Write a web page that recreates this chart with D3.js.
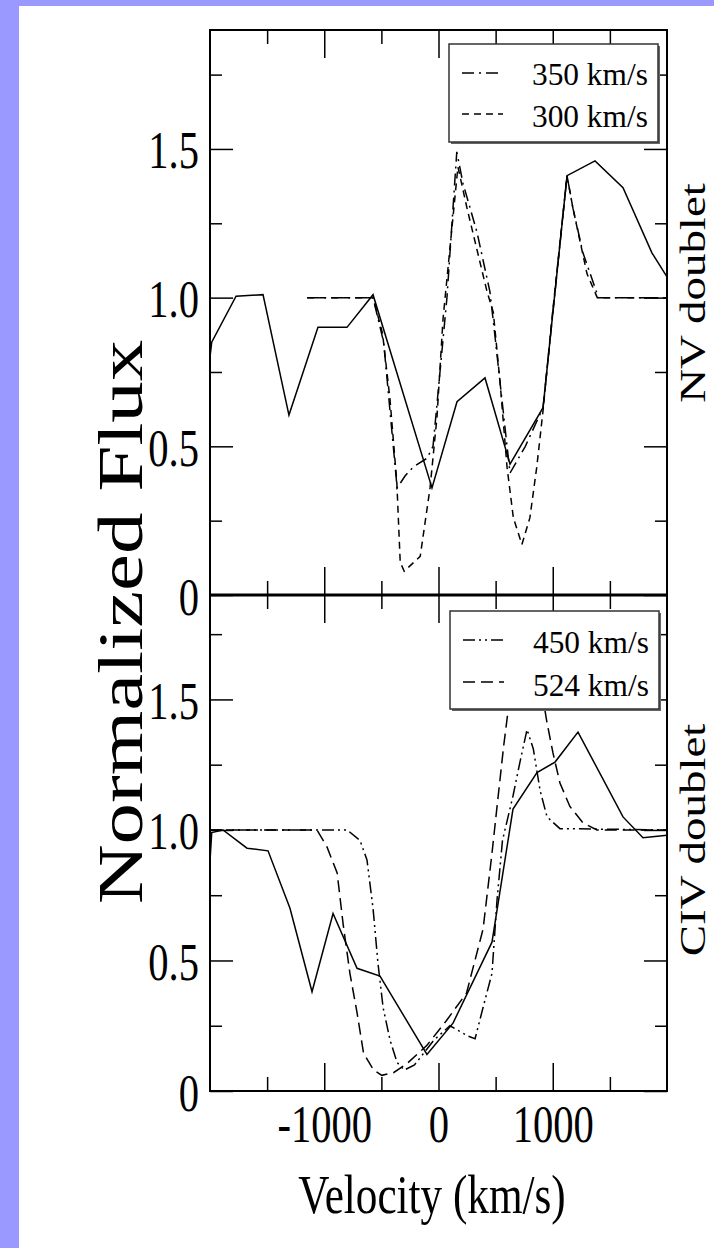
<!DOCTYPE html>
<html>
<head>
<meta charset="utf-8">
<script src="https://cdn.jsdelivr.net/npm/d3@7"></script>
<style>
  body { margin: 0; background: #fff; }
  svg { display: block; }
  text { font-family: "Liberation Serif", "Times New Roman", serif; fill: #000; }
</style>
</head>
<body>
<svg id="chart" width="714" height="1248"></svg>
<script>
// NV doublet (top panel)
const nvObsVel = [-2000, -1985, -1772, -1536, -1309, -1055, -801, -573, -57, 162, 407, 626, 915, 1125, 1370, 1615, 1869, 2000];
const nvObsFlux = [0.80, 0.85, 1.005, 1.01, 0.605, 0.90, 0.90, 1.01, 0.36, 0.65, 0.73, 0.44, 0.63, 1.41, 1.46, 1.37, 1.15, 1.07];
const nv350Vel = [-1150, -573, -480, -362, -293, -223, -100, -48, 74, 160, 214, 337, 450, 480, 626, 760, 915, 1125, 1177, 1265, 1400, 2000];
const nv350Flux = [1.0, 1.0, 0.85, 0.36, 0.40, 0.43, 0.46, 0.50, 1.0, 1.49, 1.385, 1.22, 1.02, 0.92, 0.41, 0.50, 0.63, 1.41, 1.30, 1.15, 1.0, 1.0];
const nv300Vel = [-1150, -573, -490, -425, -365, -335, -300, -160, -74, -13, 40, 170, 250, 425, 480, 540, 600, 655, 730, 800, 860, 915, 993, 1125, 1177, 1300, 1390, 2000];
const nv300Flux = [1.0, 1.0, 0.88, 0.66, 0.38, 0.11, 0.08, 0.13, 0.36, 0.60, 0.93, 1.44, 1.30, 1.02, 0.95, 0.71, 0.43, 0.26, 0.17, 0.26, 0.43, 0.62, 0.93, 1.41, 1.30, 1.08, 1.0, 1.0];

// CIV doublet (bottom panel)
const civObsVel = [-2000, -1985, -1886, -1676, -1492, -1300, -1107, -923, -713, -512, -101, 127, 468, 652, 862, 1020, 1221, 1615, 1790, 2000];
const civObsFlux = [0.88, 0.99, 1.0, 0.93, 0.92, 0.70, 0.38, 0.68, 0.47, 0.44, 0.14, 0.26, 0.57, 1.08, 1.22, 1.26, 1.375, 1.05, 0.97, 0.98];
const civ450Vel = [-2000, -800, -687, -626, -573, -530, -485, -424, -363, -300, -210, -40, 100, 260, 320, 390, 468, 512, 560, 652, 713, 775, 830, 890, 950, 1063, 2000];
const civ450Flux = [1.0, 1.0, 0.96, 0.885, 0.70, 0.49, 0.32, 0.195, 0.11, 0.08, 0.10, 0.195, 0.25, 0.21, 0.20, 0.32, 0.45, 0.73, 0.96, 1.13, 1.26, 1.385, 1.31, 1.15, 1.05, 1.005, 1.0];
const civ524Vel = [-2000, -1063, -976, -887, -835, -775, -713, -656, -568, -496, -394, -276, -101, 70, 245, 390, 468, 510, 570, 610, 700, 780, 870, 950, 1002, 1063, 1150, 1265, 1387, 2000];
const civ524Flux = [1.0, 1.0, 0.935, 0.835, 0.64, 0.45, 0.30, 0.145, 0.08, 0.06, 0.07, 0.105, 0.175, 0.27, 0.375, 0.62, 0.91, 1.08, 1.32, 1.46, 1.68, 1.76, 1.62, 1.41, 1.295, 1.18, 1.09, 1.027, 1.0, 1.0];

const xMajor = [-1000, 0, 1000];
const xMinor = [-1500, -500, 500, 1500];
const yMajor = [0, 0.5, 1.0, 1.5];
const yMinor = [0.25, 0.75, 1.25, 1.75];

const zip = (vs, fs) => vs.map((v, i) => [v, fs[i]]);

const svg = d3.select("#chart");

// lavender page border
svg.append("rect").attr("x", 0).attr("y", 0).attr("width", 19).attr("height", 1248).attr("fill", "#9999ff");
svg.append("rect").attr("x", 0).attr("y", 0).attr("width", 714).attr("height", 6).attr("fill", "#9999ff");

const x = d3.scaleLinear().domain([-2000, 2000]).range([210, 667]);

const dashDot = "12,5,2,5";
const panels = [
  {
    label: "NV doublet", labelY: 293,
    y: d3.scaleLinear().domain([0, 1.9]).range([595, 30]),
    series: [
      { data: zip(nvObsVel, nvObsFlux), dash: null },
      { data: zip(nv350Vel, nv350Flux), dash: dashDot },
      { data: zip(nv300Vel, nv300Flux), dash: "7,5" }
    ],
    legend: { x: 449, y: 44, items: [["350 km/s", dashDot, 29, 41], ["300 km/s", "7,5", 70, 83]] }
  },
  {
    label: "CIV doublet", labelY: 840,
    y: d3.scaleLinear().domain([0, 1.9]).range([1091, 595]),
    series: [
      { data: zip(civObsVel, civObsFlux), dash: null },
      { data: zip(civ450Vel, civ450Flux), dash: "12,4,2,4,2,4" },
      { data: zip(civ524Vel, civ524Flux), dash: "12,6" }
    ],
    legend: { x: 450, y: 611, items: [["450 km/s", "12,4,2,4,2,4", 29, 42], ["524 km/s", "12,6", 71, 85]] }
  }
];

function addText(parent, str, tx, ty, size, sx, anchor, rot) {
  return parent.append("text")
    .attr("transform", `translate(${tx},${ty}) scale(${sx},1)` + (rot ? ` rotate(${rot})` : ""))
    .attr("text-anchor", anchor)
    .attr("font-size", size)
    .text(str);
}

const fmt = (d) => (d === 0 ? "0" : d3.format(".1f")(d));

function styleAxis(g) {
  g.select(".domain").remove();
  g.selectAll(".tick line").attr("stroke", "#000").attr("stroke-width", 1.5);
}

panels.forEach((p, pi) => {
  const y = p.y;
  const [yBottom, yTop] = y.range();
  const g = svg.append("g");

  // data lines
  const line = d3.line().x((d) => x(d[0])).y((d) => y(d[1]));
  p.series.forEach((s) => {
    g.append("path")
      .datum(s.data)
      .attr("d", line)
      .attr("fill", "none")
      .attr("stroke", "#000")
      .attr("stroke-width", 1.5)
      .attr("stroke-dasharray", s.dash);
  });

  // inside ticks on all four sides
  g.append("g").attr("transform", "translate(210,0)")
    .call(d3.axisLeft(y).tickValues(yMajor).tickSizeInner(-23).tickSizeOuter(0).tickFormat(fmt))
    .call(styleAxis)
    .call((a) => a.selectAll("text")
      .attr("x", null).attr("dy", null)
      .attr("transform", "translate(-11,19) scale(0.78,1)")
      .attr("text-anchor", "end")
      .attr("font-size", 52)
      .attr("fill", "#000"));
  g.append("g").attr("transform", "translate(210,0)")
    .call(d3.axisLeft(y).tickValues(yMinor).tickSizeInner(-12).tickSizeOuter(0).tickFormat(""))
    .call(styleAxis);
  g.append("g").attr("transform", "translate(667,0)")
    .call(d3.axisRight(y).tickValues(yMajor).tickSizeInner(-23).tickSizeOuter(0).tickFormat(""))
    .call(styleAxis);
  g.append("g").attr("transform", "translate(667,0)")
    .call(d3.axisRight(y).tickValues(yMinor).tickSizeInner(-12).tickSizeOuter(0).tickFormat(""))
    .call(styleAxis);
  g.append("g").attr("transform", `translate(0,${yTop})`)
    .call(d3.axisTop(x).tickValues(xMajor).tickSizeInner(-28).tickSizeOuter(0).tickFormat(""))
    .call(styleAxis);
  g.append("g").attr("transform", `translate(0,${yTop})`)
    .call(d3.axisTop(x).tickValues(xMinor).tickSizeInner(-14).tickSizeOuter(0).tickFormat(""))
    .call(styleAxis);
  const isLast = pi === panels.length - 1;
  g.append("g").attr("transform", `translate(0,${yBottom})`)
    .call(d3.axisBottom(x).tickValues(xMajor).tickSizeInner(-28).tickSizeOuter(0).tickFormat(isLast ? (d) => String(d) : ""))
    .call(styleAxis)
    .call((a) => a.selectAll("text")
      .attr("y", null).attr("dy", null)
      .attr("transform", "translate(0,51) scale(0.78,1)")
      .attr("text-anchor", "middle")
      .attr("font-size", 52)
      .attr("fill", "#000"));
  g.append("g").attr("transform", `translate(0,${yBottom})`)
    .call(d3.axisBottom(x).tickValues(xMinor).tickSizeInner(-14).tickSizeOuter(0).tickFormat(""))
    .call(styleAxis);

  // legend box with drop shadow
  const L = p.legend;
  const lg = g.append("g").attr("transform", `translate(${L.x},${L.y})`);
  lg.append("rect").attr("x", 2).attr("y", 2).attr("width", 209).attr("height", 98).attr("fill", "#666");
  lg.append("rect").attr("x", 0).attr("y", 0).attr("width", 209).attr("height", 98)
    .attr("fill", "#fff").attr("stroke", "#333").attr("stroke-width", 1.5);
  L.items.forEach(([name, dash, ly, by]) => {
    lg.append("line").attr("x1", 13).attr("x2", 54).attr("y1", ly).attr("y2", ly)
      .attr("stroke", "#000").attr("stroke-width", 1.5).attr("stroke-dasharray", dash);
    addText(lg, name, 83, by, 32, 0.98, "start");
  });

  // panel label on the right
  addText(svg, p.label, 705, p.labelY, 47, 0.78, "middle", -90);
});

// frame
svg.append("rect").attr("x", 210).attr("y", 30).attr("width", 457).attr("height", 1061)
  .attr("fill", "none").attr("stroke", "#000").attr("stroke-width", 2);
svg.append("line").attr("x1", 210).attr("x2", 667).attr("y1", 595).attr("y2", 595)
  .attr("stroke", "#000").attr("stroke-width", 3);

// axis titles
addText(svg, "Velocity (km/s)", 432, 1213, 54, 0.8, "middle");
addText(svg, "Normalized Flux", 142, 622, 83, 0.77, "middle", -90);
</script>
</body>
</html>
